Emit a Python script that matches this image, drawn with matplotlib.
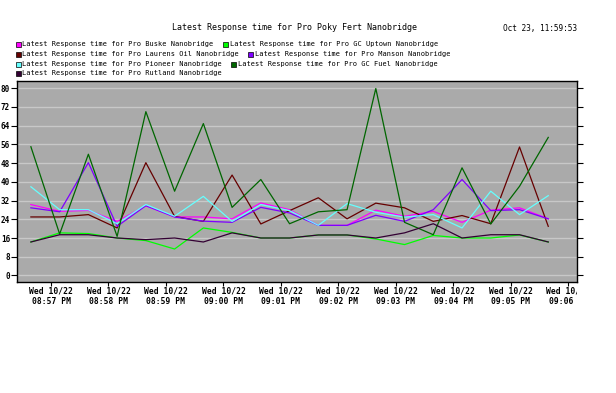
import matplotlib
matplotlib.use("Agg")
import matplotlib.pyplot as plt
import matplotlib.dates as mdates
from matplotlib.patches import Rectangle
from matplotlib.transforms import Bbox, TransformedBbox
import pandas as pd

times = pd.to_datetime([
    "2025-10-22 20:56:39", "2025-10-22 20:57:09", "2025-10-22 20:57:39",
    "2025-10-22 20:58:09", "2025-10-22 20:58:39", "2025-10-22 20:59:09",
    "2025-10-22 20:59:39", "2025-10-22 21:00:09", "2025-10-22 21:00:39",
    "2025-10-22 21:01:09", "2025-10-22 21:01:39", "2025-10-22 21:02:09",
    "2025-10-22 21:02:39", "2025-10-22 21:03:09", "2025-10-22 21:03:39",
    "2025-10-22 21:04:09", "2025-10-22 21:04:39", "2025-10-22 21:05:09",
    "2025-10-22 21:05:39",
])

buske = [30.3, 27.4, 27.8, 23.1, 29.8, 25.0, 25.0, 24.2, 31.0, 28.1,
         21.4, 21.4, 27.9, 25.3, 27.4, 22.7, 27.9, 28.9, 24.2]
gc_uptown = [14.3, 18.2, 17.9, 16.0, 14.9, 11.3, 20.3, 18.4, 16.0, 16.0,
             17.3, 17.3, 15.6, 13.2, 17.1, 16.0, 16.0, 17.3, 14.3]
laurens = [25.0, 25.0, 26.0, 20.3, 48.2, 25.2, 23.1, 42.9, 22.0, 27.7,
           33.2, 24.2, 30.9, 28.9, 23.1, 25.6, 22.1, 54.9, 21.0]
manson = [28.9, 27.2, 48.2, 21.0, 29.8, 25.0, 23.2, 22.7, 29.1, 26.7,
          21.4, 21.4, 25.7, 23.1, 28.1, 41.0, 27.7, 28.1, 24.2]
pioneer = [37.9, 28.1, 28.1, 22.1, 30.3, 25.3, 33.8, 23.1, 30.3, 27.7,
           21.4, 30.7, 27.0, 24.9, 26.0, 20.3, 36.0, 26.0, 34.1]
gc_fuel = [55.0, 17.7, 51.8, 16.7, 70.0, 36.0, 64.9, 29.1, 41.0, 22.1,
           27.2, 28.1, 79.9, 22.7, 17.4, 46.0, 22.0, 38.1, 59.0]
rutland = [14.3, 17.4, 17.4, 16.0, 15.3, 16.0, 14.3, 18.2, 16.0, 16.0,
           17.3, 17.3, 16.0, 18.2, 22.1, 16.0, 17.4, 17.4, 14.3]

names = [
    "Latest Response time for Pro Buske Nanobridge",
    "Latest Response time for Pro GC Uptown Nanobridge",
    "Latest Response time for Pro Laurens Oil Nanobridge",
    "Latest Response time for Pro Manson Nanobridge",
    "Latest Response time for Pro Pioneer Nanobridge",
    "Latest Response time for Pro GC Fuel Nanobridge",
    "Latest Response time for Pro Rutland Nanobridge",
]
colors = ["#ff00ff", "#00ff00", "#660000", "#7f00ff", "#66ffff", "#006600", "#330033"]
series = [buske, gc_uptown, laurens, manson, pioneer, gc_fuel, rutland]

W, H = 616, 393
mono = "DejaVu Sans Mono"

fig = plt.figure(figsize=(W / 100, H / 100), dpi=100)
fig.patch.set_facecolor("white")
ax = fig.add_axes([17 / W, 1 - 282 / H, 560 / W, 201 / H])
ax.set_facecolor("#aaaaaa")

for vals, c in zip(series, colors):
    ax.plot(times, vals, color=c, lw=0.9)

ax.set_ylim(-2.8, 83.1)
ax.set_yticks(range(0, 81, 8))
ax.grid(axis="y", color="#c8c8c8", lw=1)
ax.set_axisbelow(True)
ax.set_xlim(pd.Timestamp("2025-10-22 20:56:24.5"), pd.Timestamp("2025-10-22 21:06:09"))
ax.xaxis.set_major_locator(mdates.MinuteLocator())
ax.xaxis.set_major_formatter(mdates.DateFormatter("%a %m/%d\n%I:%M %p"))
ax.tick_params(axis="x", length=3, pad=0, labelsize=5.8, direction="out")
ax.tick_params(axis="y", left=True, right=True, length=4, pad=1, labelsize=5.5)
for lbl in ax.get_xticklabels() + ax.get_yticklabels():
    lbl.set_family(mono)
    lbl.set_weight("bold")
for lbl in ax.get_xticklabels():
    lbl.set_linespacing(1.25)
for s in ax.spines.values():
    s.set_color("black")
    s.set_linewidth(1)

fig.text(295 / W, 1 - 27 / H, "Latest Response time for Pro Poky Fert Nanobridge",
         ha="center", va="center", family=mono, fontsize=6.0)
fig.text(577 / W, 1 - 29 / H, "Oct 23, 11:59:53", ha="right", va="center",
         family=mono, fontsize=5.6)

fig.canvas.draw()
r = fig.canvas.get_renderer()

# legend flows two items per row
rows = [[0, 1], [2, 3], [4, 5], [6]]
row_y = [44, 54, 64, 73]
for row, yy in zip(rows, row_y):
    x = 15.5
    for k in row:
        fig.patches.append(Rectangle((x / W, 1 - (yy + 3) / H), 5 / W, 5 / H,
                                     transform=fig.transFigure, facecolor=colors[k],
                                     edgecolor="black", lw=0.5))
        t = fig.text((x + 7) / W, 1 - yy / H, names[k], ha="left", va="center",
                     family=mono, fontsize=5.0)
        w = t.get_window_extent(r).width
        x = x + 7 + w + 9

# the last time label is cut at the plot's right edge
clip = TransformedBbox(Bbox([[0, 0], [577 / W, 1]]), fig.transFigure)
for tick in ax.xaxis.get_major_ticks():
    tick.label1.set_clip_on(True)
    tick.label1.set_clip_box(clip)

fig.savefig("out.png", dpi=100)
